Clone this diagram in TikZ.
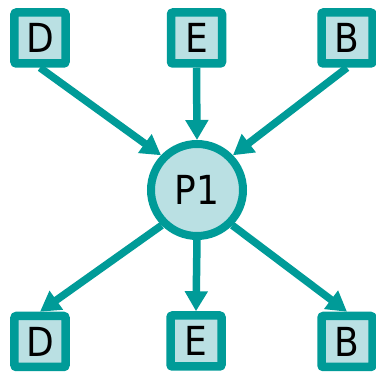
\documentclass[tikz,border=0pt]{standalone}
\usepackage{fontspec}
\setmainfont{DejaVu Sans Condensed}
\usetikzlibrary{arrows.meta}
\definecolor{teal1}{HTML}{009B98}
\definecolor{fillc}{HTML}{BAE0E3}
\begin{document}
\begin{tikzpicture}[x=1pt,y=1pt,
  box/.style={draw=teal1,fill=fillc,line width=8.5pt,rounded corners=2pt,minimum size=51pt,inner sep=0pt,font=\fontsize{40}{40}\selectfont},
  proc/.style={circle,draw=teal1,fill=fillc,line width=8pt,minimum size=92pt,inner sep=0pt,font=\fontsize{40}{40}\selectfont},
  conn/.style={draw=teal1,line width=7.5pt,-{Triangle[width=22pt,length=20pt]}}]
\useasboundingbox (0,0) rectangle (376,-374);
\node[box] (d1) at (40,-38) {D};
\node[box] (e1) at (196.5,-38) {E};
\node[box] (b1) at (347,-38) {B};
\node[proc] (p) at (197,-190) {P1};
\node[box] (d2) at (40,-341.5) {D};
\node[box] (e2) at (196,-341) {E};
\node[box] (b2) at (347,-341.5) {B};
\draw[conn] (d1.south) -- (p.136);
\draw[conn] (e1.south) -- (p.north);
\draw[conn] (b1.south) -- (p.44);
\draw[conn] (p.225) -- (d2.north);
\draw[conn] (p.south) -- (e2.north);
\draw[conn] (p.-45) -- (b2.north);
\end{tikzpicture}
\end{document}
